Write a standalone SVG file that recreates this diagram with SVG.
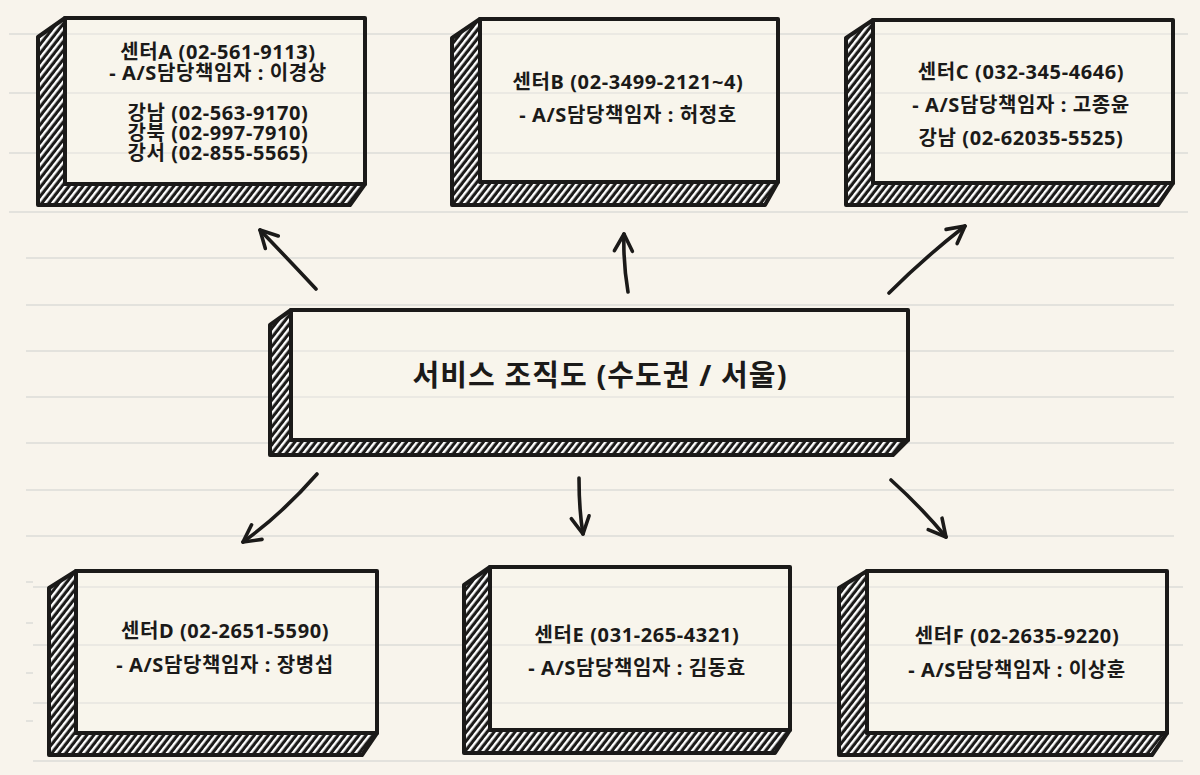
<svg xmlns="http://www.w3.org/2000/svg" width="1200" height="775" viewBox="0 0 1200 775">
<defs>
<pattern id="hatch" patternUnits="userSpaceOnUse" width="5.5" height="5.5" patternTransform="rotate(38)">
<rect width="5.5" height="5.5" fill="#1b1a19"/>
<rect x="0" y="0" width="2.4" height="5.5" fill="#ffffff"/>
</pattern>
<marker id="head" markerUnits="userSpaceOnUse" markerWidth="30" markerHeight="30" refX="0" refY="0" viewBox="-20 -15 30 30" orient="auto" overflow="visible">
<path d="M-17,-9 L0,0 L-17,9" fill="none" stroke="#1b1a19" stroke-width="3.6" stroke-linecap="round" stroke-linejoin="round"/>
</marker>
<style>
.bgl{stroke:#e3e2dd;stroke-width:2;fill:none}
.shadow{fill:url(#hatch);stroke:#1b1a19;stroke-width:4;stroke-linejoin:round}
.front{fill:#faf6ef;fill-opacity:0.35;stroke:#1b1a19;stroke-width:4;stroke-linejoin:round}
.t{font-family:"Noto Sans","Noto Sans CJK KR",sans-serif;font-weight:bold;font-size:20px;letter-spacing:0.6px;fill:#1b1a19;text-anchor:middle}
.title{font-size:29px;letter-spacing:1.1px}
.arrow{fill:none;stroke:#1b1a19;stroke-width:3.6;stroke-linecap:round;marker-end:url(#head)}
</style>
</defs>
<rect width="1200" height="775" fill="#f8f4ec"/>
<g id="background-lines">
<path class="bgl" d="M9,34H1188M9,93H1188M9,153H1188M9,212H1188"/>
<path class="bgl" d="M26,258H1174M26,305H1174M26,351H1174M26,397H1174M26,443H1174M26,490H1174M26,536H1174"/>
<path class="bgl" d="M33,587H1183M33,645H1183M33,703H1183M33,761H1183"/>
<path class="bgl" d="M26,582H33M26,623H33M26,673H33M26,721H33"/>
</g>
<g id="connectors">
<path class="arrow" d="M316,289 Q288,259 260,230"/>
<path class="arrow" d="M628,292 Q623,262 624,234"/>
<path class="arrow" d="M889,293 Q924,258 965,226"/>
<path class="arrow" d="M317,474 Q282,514 243,542"/>
<path class="arrow" d="M579,478 Q579,510 583,534"/>
<path class="arrow" d="M891,480 Q921,507 946,537"/>
</g>
<g id="center">
<polygon class="shadow" points="291,310 270,325 270,455 893,455 908,440 291,440"/>
<rect class="front" x="291" y="310" width="617" height="130"/>
<text class="t title" x="600" y="386">서비스 조직도 (수도권 / 서울)</text>
</g>
<g id="centerA">
<polygon class="shadow" points="65,18 38,37 38,205 350,205 365,184 65,184"/>
<rect class="front" x="65" y="18" width="300" height="166"/>
<text class="t" x="218" y="59">센터A (02-561-9113)</text>
<text class="t" x="218" y="80">- A/S담당책임자 : 이경상</text>
<text class="t" x="218" y="120">강남 (02-563-9170)</text>
<text class="t" x="218" y="140">강북 (02-997-7910)</text>
<text class="t" x="218" y="160">강서 (02-855-5565)</text>
</g>
<g id="centerB">
<polygon class="shadow" points="480,19 452,38 452,205 765,205 778,182 480,182"/>
<rect class="front" x="480" y="19" width="298" height="163"/>
<text class="t" x="628" y="89">센터B (02-3499-2121~4)</text>
<text class="t" x="628" y="122">- A/S담당책임자 : 허정호</text>
</g>
<g id="centerC">
<polygon class="shadow" points="873,20 846,38 846,205 1158,205 1173,183 873,183"/>
<rect class="front" x="873" y="20" width="300" height="163"/>
<text class="t" x="1021" y="79">센터C (032-345-4646)</text>
<text class="t" x="1021" y="112">- A/S담당책임자 : 고종윤</text>
<text class="t" x="1021" y="145">강남 (02-62035-5525)</text>
</g>
<g id="centerD">
<polygon class="shadow" points="76,571 49,588 49,755 362,755 377,733 76,733"/>
<rect class="front" x="76" y="571" width="301" height="162"/>
<text class="t" x="225" y="638">센터D (02-2651-5590)</text>
<text class="t" x="225" y="672">- A/S담당책임자 : 장병섭</text>
</g>
<g id="centerE">
<polygon class="shadow" points="490,567 464,585 464,753 775,753 790,730 490,730"/>
<rect class="front" x="490" y="567" width="300" height="163"/>
<text class="t" x="637" y="642">센터E (031-265-4321)</text>
<text class="t" x="637" y="675">- A/S담당책임자 : 김동효</text>
</g>
<g id="centerF">
<polygon class="shadow" points="867,571 839,588 839,755 1152,755 1167,733 867,733"/>
<rect class="front" x="867" y="571" width="300" height="162"/>
<text class="t" x="1017" y="643">센터F (02-2635-9220)</text>
<text class="t" x="1017" y="677">- A/S담당책임자 : 이상훈</text>
</g>
</svg>
